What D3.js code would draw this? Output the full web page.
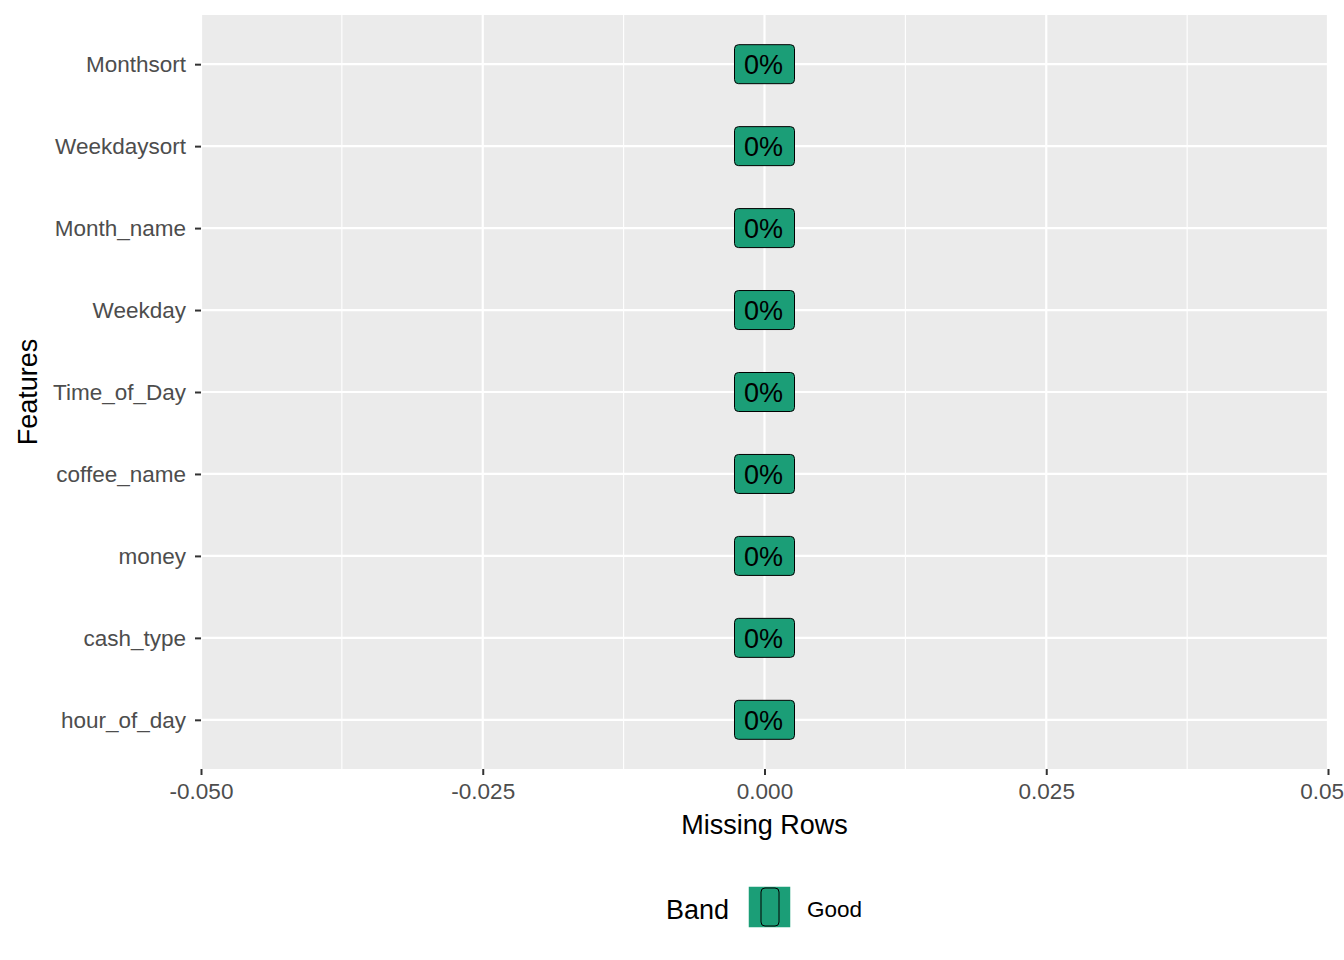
<!DOCTYPE html>
<html><head><meta charset="utf-8">
<script src="https://cdn.jsdelivr.net/npm/d3@7"></script>
<style>body{margin:0;background:#fff}text{font-family:Arial,"Liberation Sans",sans-serif}</style>
</head><body><svg id="c" width="1344" height="960"></svg>
<script>
const features = ["Monthsort","Weekdaysort","Month_name","Weekday","Time_of_Day","coffee_name","money","cash_type","hour_of_day"];
const missing = [0,0,0,0,0,0,0,0,0];
const labels = ["0%","0%","0%","0%","0%","0%","0%","0%","0%"];
const xTicks = [-0.05,-0.025,0,0.025,0.05];
const xMinor = [-0.0375,-0.0125,0.0125,0.0375];
const bandName = "Good";
const green = "#1b9e77";

const svg = d3.select("#c");
const L=201,R=1328,T=15,B=769;
const x = d3.scaleLinear().domain([-0.05,0.05]).range([L,R]);
const y = d3.scalePoint().domain(features).range([T,B]).padding(0.6);

svg.append("rect").attr("x",L).attr("y",T).attr("width",R-L).attr("height",B-T).attr("fill","#ebebeb");
svg.selectAll(".mn").data(xMinor).join("line").attr("x1",d=>x(d)).attr("x2",d=>x(d)).attr("y1",T).attr("y2",B).attr("stroke","#fff").attr("stroke-width",1.1);
svg.selectAll(".mj").data(xTicks).join("line").attr("x1",d=>x(d)).attr("x2",d=>x(d)).attr("y1",T).attr("y2",B).attr("stroke","#fff").attr("stroke-width",2.2);
svg.selectAll(".hy").data(features).join("line").attr("x1",L).attr("x2",R).attr("y1",d=>y(d)).attr("y2",d=>y(d)).attr("stroke","#fff").attr("stroke-width",2.2);

svg.selectAll(".bar").data(features).join("rect").attr("x",(d,i)=>Math.min(x(0),x(missing[i]))).attr("y",d=>y(d)-30)
 .attr("width",(d,i)=>Math.abs(x(missing[i])-x(0))).attr("height",60).attr("fill",green);

const g = svg.selectAll(".lab").data(features).join("g").attr("transform",(d,i)=>`translate(${x(missing[i])},${y(d)})`);
g.append("rect").attr("x",-30).attr("y",-19.5).attr("width",60).attr("height",39).attr("rx",4).attr("fill",green).attr("stroke","#000").attr("stroke-width",1);
g.append("text").text((d,i)=>labels[i]).attr("x",-1).attr("text-anchor","middle").attr("dy","0.36em").attr("font-size",27).attr("fill","#000");

const fmt = d => d3.format(".3f")(d).replace("\u2212","-");
const xa = svg.append("g").attr("transform",`translate(0,${B})`).call(d3.axisBottom(x).tickValues(xTicks).tickFormat(fmt).tickSize(6).tickPadding(5));
const ya = svg.append("g").attr("transform",`translate(${L},0)`).call(d3.axisLeft(y).tickSize(6).tickPadding(9));
[xa,ya].forEach(a=>{a.select(".domain").remove();a.selectAll("line").attr("stroke","#333").attr("stroke-width",2);a.selectAll("text").attr("fill","#4d4d4d").attr("font-size",22.5).style("font-family","Arial,'Liberation Sans',sans-serif");});
xa.selectAll("text").attr("dy","0.85em");

svg.append("text").attr("x",(L+R)/2).attr("y",834).attr("text-anchor","middle").attr("font-size",27).text("Missing Rows");
svg.append("text").attr("transform","translate(37,392) rotate(-90)").attr("text-anchor","middle").attr("font-size",27).text("Features");

svg.append("text").attr("x",666).attr("y",919).attr("font-size",27).text("Band");
svg.append("rect").attr("x",748).attr("y",886).attr("width",43).attr("height",42).attr("fill",green).attr("stroke","#fff").attr("stroke-width",1.5);
svg.append("rect").attr("x",761).attr("y",888).attr("width",18).attr("height",38).attr("rx",4).attr("fill",green).attr("stroke","#000").attr("stroke-width",1);
svg.append("text").attr("x",807).attr("y",917).attr("font-size",22.5).text(bandName);
</script></body></html>
